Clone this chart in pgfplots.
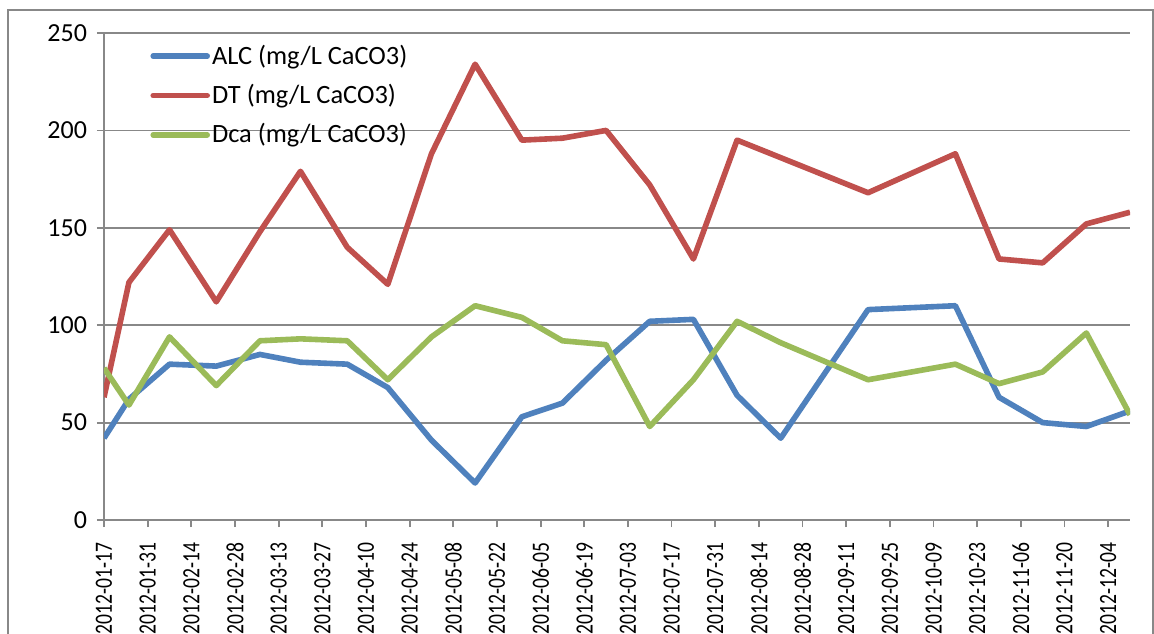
\documentclass[border=0pt]{standalone}
\usepackage{fontspec}
\setmainfont{Carlito}
\usepackage{graphicx}
\usepackage{pgfplots}
\pgfplotsset{compat=1.18}
\usepackage{pgfplotstable}
\definecolor{alc}{HTML}{4F81BD}
\definecolor{dt}{HTML}{C0504D}
\definecolor{dca}{HTML}{9BBB59}
\definecolor{gridgray}{HTML}{888888}
\newcommand{\xl}[1]{\scalebox{0.79}[1]{#1}}
\pgfplotstableread{
day ALC DT Dca
17 42 63 78
25 62 122 59
38 80 149 94
53 79 112 69
67 85 148 92
80 81 179 93
95 80 140 92
108 68 121 72
122 41 188 94
136 19 234 110
151 53 195 104
164 60 196 92
178 82 200 90
192 102 172 48
206 103 134 72
220 64 195 102
234 42 186 91
262 108 168 72
290 110 188 80
304 63 134 70
318 50 132 76
332 48 152 96
346 56 158 54
}\datatable
\begin{document}
\begin{tikzpicture}
\path[use as bounding box, clip] (0,0) rectangle (577pt,316.5pt);
\draw[gridgray, line width=0.9pt] (4pt,-20pt) rectangle (576.5pt,311.5pt);
\begin{axis}[
  at={(52pt,56.5pt)}, anchor=south west,
  scale only axis, width=513pt, height=243.5pt,
  xmin=17, xmax=346, ymin=0, ymax=250,
  xtick={17,31,...,339},
  xticklabels={\xl{2012-01-17},\xl{2012-01-31},\xl{2012-02-14},\xl{2012-02-28},\xl{2012-03-13},\xl{2012-03-27},\xl{2012-04-10},\xl{2012-04-24},\xl{2012-05-08},\xl{2012-05-22},\xl{2012-06-05},\xl{2012-06-19},\xl{2012-07-03},\xl{2012-07-17},\xl{2012-07-31},\xl{2012-08-14},\xl{2012-08-28},\xl{2012-09-11},\xl{2012-09-25},\xl{2012-10-09},\xl{2012-10-23},\xl{2012-11-06},\xl{2012-11-20},\xl{2012-12-04}},
  ytick={0,50,...,250},
  yticklabels={0,50,100,150,200,250},
  ymajorgrids,
  grid style={gridgray, line width=0.9pt},
  axis x line*=bottom, axis y line*=left,
  axis line style={gridgray, line width=0.9pt},
  tick align=outside, major tick length=3.5pt,
  tick style={gridgray, line width=0.9pt},
  xticklabel shift=4.5pt,
  x tick label style={rotate=90, anchor=east, font=\fontsize{12.4}{15}\selectfont},
  y tick label style={xshift=-1.5pt, font=\fontsize{13}{15}\selectfont},
  legend style={draw=none, fill=none, at={(0.039,0.9925)}, anchor=north west,
    font=\fontsize{13.2}{15}\selectfont, row sep=4.5pt, nodes={inner xsep=1pt}},
  legend cell align=left,
  legend image code/.code={\draw[#1, line cap=round] (0pt,0pt) -- (27pt,0pt);},
  every axis plot/.append style={line width=2.8pt, line join=round},
]
\addplot[alc] table[x=day, y=ALC] {\datatable};
\addlegendentry{ALC (mg/L CaCO3)}
\addplot[dt] table[x=day, y=DT] {\datatable};
\addlegendentry{DT (mg/L CaCO3)}
\addplot[dca] table[x=day, y=Dca] {\datatable};
\addlegendentry{Dca (mg/L CaCO3)}
\end{axis}
\end{tikzpicture}
\end{document}
